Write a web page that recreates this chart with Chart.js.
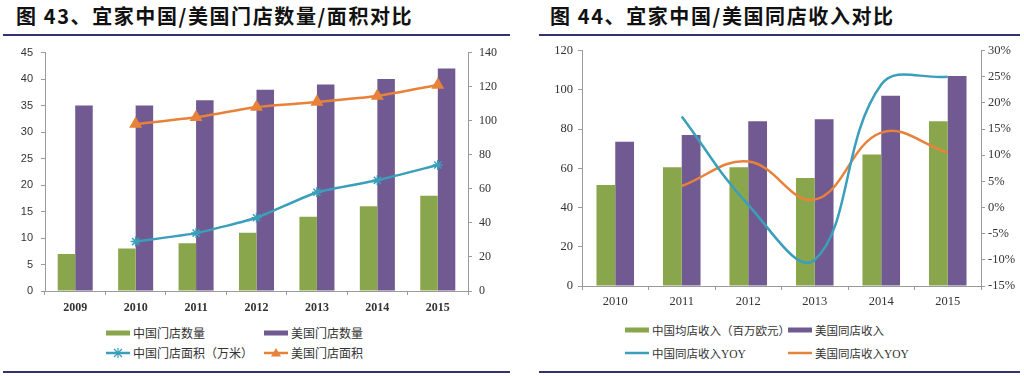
<!DOCTYPE html>
<html>
<head>
<meta charset="utf-8">
<script src="https://cdn.jsdelivr.net/npm/chart.js@4.4.0/dist/chart.umd.min.js"></script>
<style>
  body { margin: 0; width: 1024px; height: 376px; background: #fff; position: relative; overflow: hidden; }
  .title { position: absolute; top: 2px; font-family: "Noto Sans CJK SC", sans-serif; font-weight: bold; font-size: 20px; line-height: 28px; letter-spacing: 1.6px; color: #111; white-space: nowrap; }
  .rule { position: absolute; height: 2px; background: #2f3470; }
  .wrap { position: absolute; top: 38px; width: 512px; height: 282px; }
  .leg { position: absolute; display: flex; align-items: center; white-space: nowrap; color: #333;
         font-family: "Liberation Serif", "Noto Sans CJK SC", serif; }
  .leg svg { margin-right: 3px; }
</style>
</head>
<body>
<div class="title" style="left:16px">图 43、宜家中国/美国门店数量/面积对比</div>
<div class="rule" style="left:3px;width:507px;top:34px"></div>
<div class="title" style="left:550px">图 44、宜家中国/美国同店收入对比</div>
<div class="rule" style="left:539px;width:481px;top:34px"></div>

<div class="wrap" style="left:0"><canvas id="storeChart"></canvas></div>
<div class="wrap" style="left:512px"><canvas id="revenueChart"></canvas></div>

<div class="rule" style="left:3px;width:507px;top:371px"></div>
<div class="rule" style="left:539px;width:481px;top:371px"></div>

<script>
// 图43 data
const storeYears = ['2009', '2010', '2011', '2012', '2013', '2014', '2015'];
const cnStores = [7, 8, 9, 11, 14, 16, 18];
const usStores = [35, 35, 36, 38, 39, 40, 42];
const cnArea = [null, 29, 34, 43, 58, 65, 74];
const usArea = [null, 98, 102, 108, 111, 114.5, 121];

// 图44 data
const revenueYears = ['2010', '2011', '2012', '2013', '2014', '2015'];
const cnRevenue = [51.5, 60.5, 60.5, 55, 67, 84];
const usRevenue = [73.5, 77, 84, 85, 97, 107];
const cnYoy = [null, 17.4, 0.5, -10, 23.5, 25];
const usYoy = [null, 4.1, 8.8, 1.5, 14.3, 10.5];

const GREEN = '#8aa64c';
const PURPLE = '#715a91';
const BLUE = '#3a9fba';
const ORANGE = '#e8823a';
const AXIS = '#9a9a9a';

Chart.defaults.animation = false;
Chart.defaults.color = '#333';

const fixed = (w, h) => (s) => {
  if (w != null) s.width = w;
  if (h != null) s.height = h;
};

new Chart(document.getElementById('storeChart'), {
  type: 'bar',
  data: {
    labels: storeYears,
    datasets: [
      { label: '中国门店数量', data: cnStores, backgroundColor: GREEN, yAxisID: 'y', order: 2 },
      { label: '美国门店数量', data: usStores, backgroundColor: PURPLE, yAxisID: 'y', order: 2 },
      { type: 'line', label: '中国门店面积（万米）', data: cnArea, borderColor: BLUE, backgroundColor: BLUE,
        borderWidth: 2.5, tension: 0.15, pointStyle: 'star', pointRadius: 5, pointBorderWidth: 1.5,
        yAxisID: 'y1', order: 0 },
      { type: 'line', label: '美国门店面积', data: usArea, borderColor: ORANGE, backgroundColor: ORANGE,
        borderWidth: 2.5, tension: 0.15, pointStyle: 'triangle', pointRadius: 5,
        yAxisID: 'y1', order: 0 }
    ]
  },
  options: {
    responsive: true,
    maintainAspectRatio: false,
    layout: { padding: { top: 11, left: 0, right: 0, bottom: 0 } },
    datasets: { bar: { categoryPercentage: 0.58, barPercentage: 1.0 } },
    plugins: { legend: { display: false }, tooltip: { enabled: false } },
    scales: {
      x: {
        grid: { drawOnChartArea: false, offset: true, tickLength: 4, color: AXIS },
        border: { color: AXIS },
        ticks: { padding: 6, color: '#333', font: { family: 'Liberation Serif', size: 12, weight: 'bold' } },
        afterFit: fixed(null, 29)
      },
      y: {
        position: 'left', min: 0, max: 45,
        grid: { drawOnChartArea: false, tickLength: 4, color: AXIS },
        border: { color: AXIS },
        ticks: { stepSize: 5, padding: 8, color: '#333', font: { family: 'Liberation Sans', size: 11 } },
        afterFit: fixed(45, null)
      },
      y1: {
        position: 'right', min: 0, max: 140,
        grid: { drawOnChartArea: false, tickLength: 4, color: AXIS },
        border: { color: AXIS },
        ticks: { stepSize: 20, padding: 7, color: '#333', font: { family: 'Liberation Serif', size: 12 } },
        afterFit: fixed(44, null)
      }
    }
  }
});

new Chart(document.getElementById('revenueChart'), {
  type: 'bar',
  data: {
    labels: revenueYears,
    datasets: [
      { label: '中国均店收入（百万欧元）', data: cnRevenue, backgroundColor: GREEN, yAxisID: 'y', order: 2 },
      { label: '美国同店收入', data: usRevenue, backgroundColor: PURPLE, yAxisID: 'y', order: 2 },
      { type: 'line', label: '中国同店收入YOY', data: cnYoy, borderColor: BLUE, borderWidth: 2.5,
        tension: 0.4, pointRadius: 0, yAxisID: 'y1', order: 0 },
      { type: 'line', label: '美国同店收入YOY', data: usYoy, borderColor: ORANGE, borderWidth: 2.5,
        tension: 0.4, pointRadius: 0, yAxisID: 'y1', order: 0 }
    ]
  },
  options: {
    responsive: true,
    maintainAspectRatio: false,
    layout: { padding: { top: 12, left: 0, right: 0, bottom: 0 } },
    datasets: { bar: { categoryPercentage: 0.565, barPercentage: 1.0 } },
    plugins: { legend: { display: false }, tooltip: { enabled: false } },
    scales: {
      x: {
        grid: { drawOnChartArea: false, offset: true, tickLength: 4, color: AXIS },
        border: { color: AXIS },
        ticks: { padding: 4, color: '#333', font: { family: 'Liberation Serif', size: 12.5 } },
        afterFit: fixed(null, 34)
      },
      y: {
        position: 'left', min: 0, max: 120,
        grid: { drawOnChartArea: false, tickLength: 4, color: AXIS },
        border: { color: AXIS },
        ticks: { stepSize: 20, padding: 5, color: '#333', font: { family: 'Liberation Serif', size: 12.5 } },
        afterFit: fixed(70, null)
      },
      y1: {
        position: 'right', min: -15, max: 30,
        grid: { drawOnChartArea: false, tickLength: 4, color: AXIS },
        border: { color: AXIS },
        ticks: { stepSize: 5, padding: 3, color: '#333', font: { family: 'Liberation Serif', size: 12.5 },
                 callback: (v) => v + '%' },
        afterFit: fixed(43, null)
      }
    }
  }
});

// legends (HTML), built from the dataset labels
function symbol(kind, color) {
  const w = 24, h = 12, c = h / 2;
  let inner = '';
  if (kind === 'box') inner = `<rect x="0" y="${c - 2.5}" width="${w}" height="5" fill="${color}"/>`;
  else {
    inner = `<line x1="0" y1="${c}" x2="${w}" y2="${c}" stroke="${color}" stroke-width="2.5"/>`;
    if (kind === 'star') inner += `<path d="M${w/2-4} ${c-4}L${w/2+4} ${c+4}M${w/2+4} ${c-4}L${w/2-4} ${c+4}M${w/2} ${c-5}L${w/2} ${c+5}" stroke="${color}" stroke-width="1.2"/>`;
    if (kind === 'tri') inner += `<path d="M${w/2} ${c-5}L${w/2+5} ${c+3.5}L${w/2-5} ${c+3.5}Z" fill="${color}"/>`;
  }
  return `<svg width="${w}" height="${h}">${inner}</svg>`;
}
function legendItem(x, cy, kind, color, text, size) {
  const d = document.createElement('div');
  d.className = 'leg';
  d.style.left = x + 'px';
  d.style.top = (cy - 8) + 'px';
  d.style.height = '16px';
  d.style.fontSize = size + 'px';
  d.innerHTML = symbol(kind, color) + '<span>' + text + '</span>';
  document.body.appendChild(d);
}
legendItem(106, 333, 'box', GREEN, '中国门店数量', 12);
legendItem(264, 333, 'box', PURPLE, '美国门店数量', 12);
legendItem(106, 353, 'star', BLUE, '中国门店面积（万米）', 12);
legendItem(264, 353, 'tri', ORANGE, '美国门店面积', 12);

legendItem(625, 330, 'box', GREEN, '中国均店收入（百万欧元）', 11.5);
legendItem(788, 330, 'box', PURPLE, '美国同店收入', 11.5);
legendItem(625, 353, 'line', BLUE, '中国同店收入YOY', 11.5);
legendItem(788, 353, 'line', ORANGE, '美国同店收入YOY', 11.5);
</script>
</body>
</html>
